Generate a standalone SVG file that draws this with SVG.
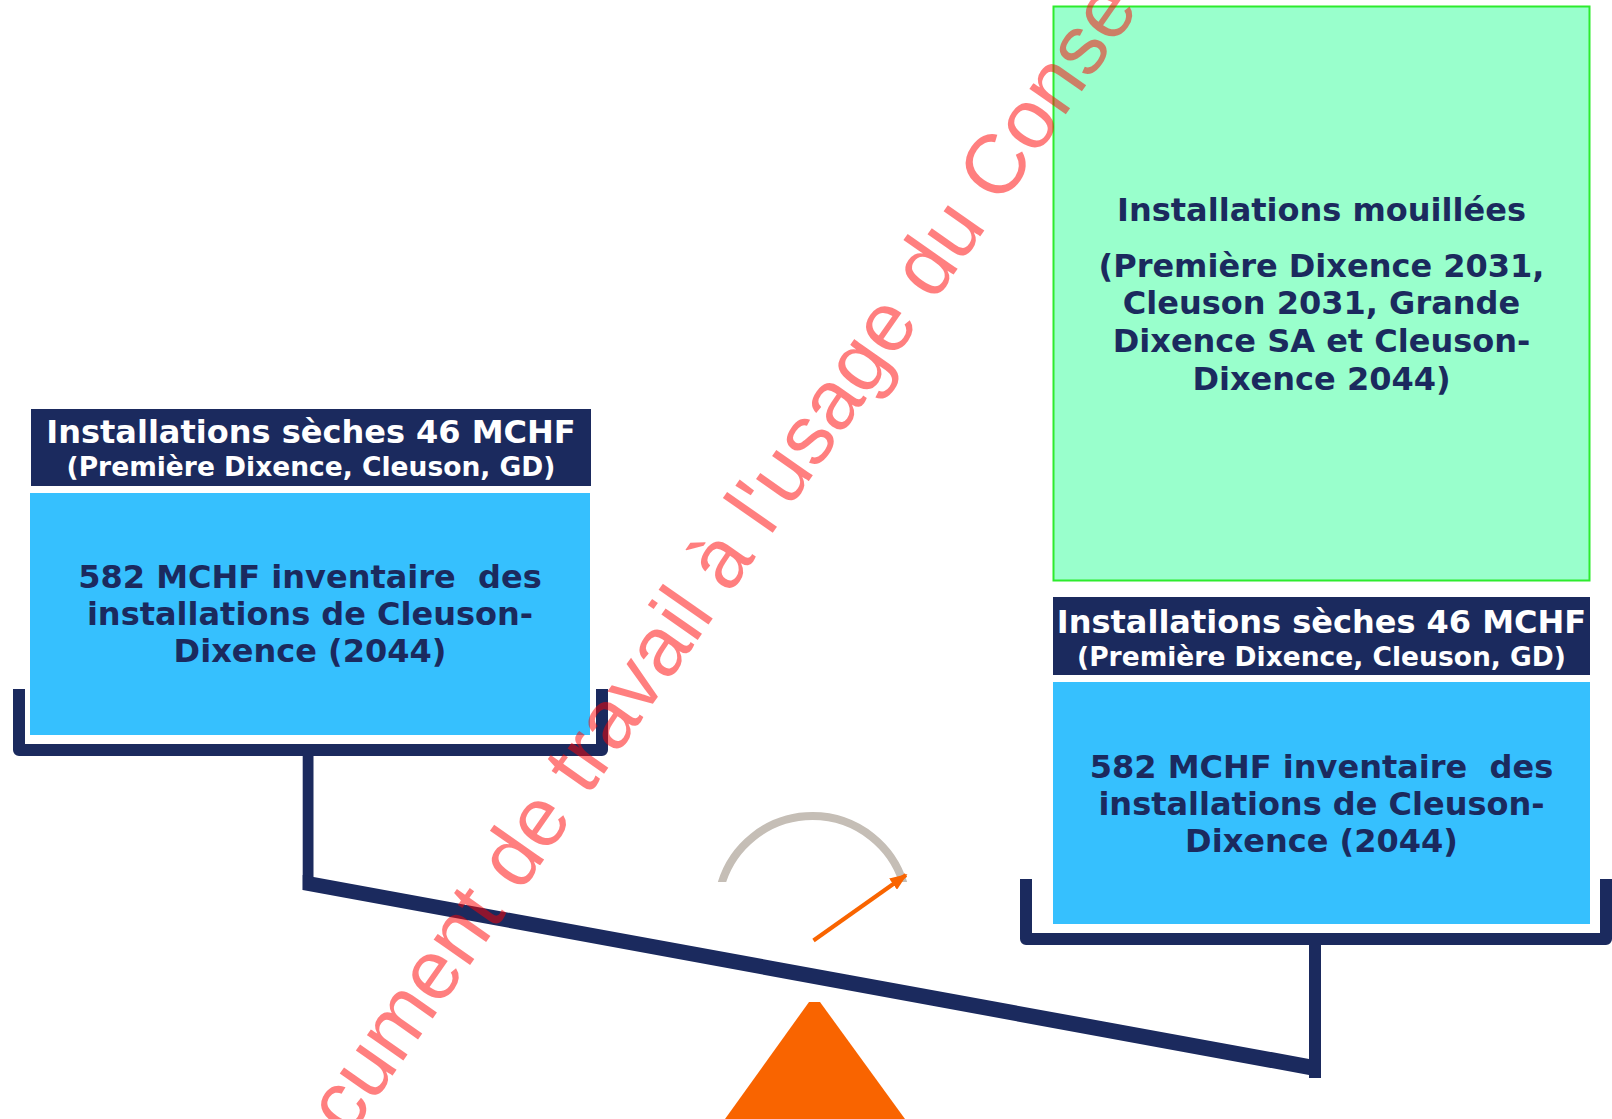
<svg xmlns="http://www.w3.org/2000/svg" width="1612" height="1119" viewBox="0 0 1612 1119">
<style>
.navy{fill:#1B2A5E}
.sky{fill:#36C0FE}
.tray{fill:none;stroke:#1B2A5E;stroke-width:12;stroke-linejoin:round;stroke-linecap:butt}
.lbl{font-family:"DejaVu Sans","Verdana",sans-serif;font-weight:bold;text-anchor:middle}
.w{fill:#FFFFFF}
.d{fill:#1B2A5E}
.big{font-size:32px}
.sub{font-size:26.5px}
.wm{font-family:"Liberation Sans",Arial,sans-serif;font-size:84px;fill:#FF0000;fill-opacity:0.5}
</style>
<defs>
<marker id="ah" viewBox="0 0 10 10" refX="9" refY="5" markerWidth="4.4" markerHeight="3.4" markerUnits="strokeWidth" orient="auto" preserveAspectRatio="none">
<path d="M0,0 L10,5 L0,10 Z" fill="#F96400"/>
</marker>
<clipPath id="arcclip"><rect x="0" y="0" width="1612" height="882"/></clipPath>
</defs>
<rect x="0" y="0" width="1612" height="1119" fill="#FFFFFF"/>

<g id="green-box">
<rect x="1053.5" y="6.5" width="536" height="574" fill="#99FFCC" stroke="#2DEB2D" stroke-width="2"/>
<text class="lbl d big" x="1321.5" y="221">Installations mouillées</text>
<text class="lbl d big" x="1321.5" y="276.5">(Première Dixence 2031,</text>
<text class="lbl d big" x="1321.5" y="314">Cleuson 2031, Grande</text>
<text class="lbl d big" x="1321.5" y="352">Dixence SA et Cleuson-</text>
<text class="lbl d big" x="1321.5" y="390">Dixence 2044)</text>
</g>

<g id="left-pan">
<path class="tray" d="M19,689 V750 H602 V689"/>
</g>
<g id="left-header">
<rect class="navy" x="31" y="409" width="560" height="77"/>
<text class="lbl w big" x="311" y="443">Installations sèches 46 MCHF</text>
<text class="lbl w sub" x="311" y="476">(Première Dixence, Cleuson, GD)</text>
</g>
<g id="left-inventory">
<rect class="sky" x="30" y="493" width="560" height="242"/>
<text class="lbl d big" x="310" y="588" xml:space="preserve" style="white-space:pre">582 MCHF inventaire  des</text>
<text class="lbl d big" x="310" y="625">installations de Cleuson-</text>
<text class="lbl d big" x="310" y="662">Dixence (2044)</text>
</g>

<g id="right-pan">
<path class="tray" d="M1026,879 V939 H1606 V879"/>
</g>
<g id="right-header">
<rect class="navy" x="1053" y="597" width="537" height="78"/>
<text class="lbl w big" x="1321.5" y="633">Installations sèches 46 MCHF</text>
<text class="lbl w sub" x="1321.5" y="666">(Première Dixence, Cleuson, GD)</text>
</g>
<g id="right-inventory">
<rect class="sky" x="1053" y="682" width="537" height="242"/>
<text class="lbl d big" x="1321.5" y="777.5" xml:space="preserve" style="white-space:pre">582 MCHF inventaire  des</text>
<text class="lbl d big" x="1321.5" y="815">installations de Cleuson-</text>
<text class="lbl d big" x="1321.5" y="852">Dixence (2044)</text>
</g>

<g id="balance">
<rect class="navy" x="302.7" y="750" width="10.8" height="140"/>
<rect class="navy" x="1309" y="939" width="12" height="139"/>
<polygon class="navy" points="302.7,875 1309,1059 1309,1075 302.7,890"/>
<polygon id="fulcrum" points="809,1002 820,1002 905,1119 725,1119" fill="#F96400"/>
</g>

<g id="gauge">
<path d="M719.85,890 A95,95 0 0 1 905.15,890" fill="none" stroke="#C5BEB6" stroke-width="8" clip-path="url(#arcclip)"/>
</g>

<g id="connectors">
<line x1="813.5" y1="940.5" x2="906" y2="875" stroke="#F96400" stroke-width="4" marker-end="url(#ah)"/>
</g>

<g id="watermark">
<text class="wm" transform="translate(349,1138) rotate(-55)" x="0" y="0">cument de travail à l'usage du Conse</text>
</g>
</svg>
